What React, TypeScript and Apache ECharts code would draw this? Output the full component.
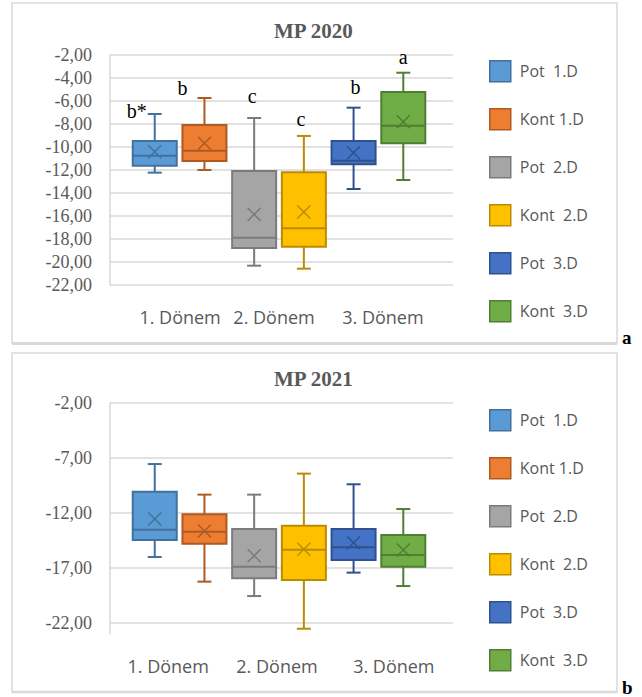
import React, { useEffect, useRef } from "react";
import * as echarts from "echarts";

// ---- data ----
const seriesNames = ["Pot  1.D", "Kont 1.D", "Pot  2.D", "Kont  2.D", "Pot  3.D", "Kont  3.D"];
const periodLabels = ["1. Dönem", "2. Dönem", "3. Dönem"];
const slotPositions = [1, 2, 3, 4, 5, 6];

// MP 2020 (box statistics per series)
const low2020 = [-12.23, -12.0, -20.32, -20.58, -13.65, -12.87];
const q1_2020 = [-11.63, -11.22, -18.78, -18.67, -11.5, -9.68];
const median2020 = [-10.75, -10.32, -17.89, -17.07, -11.19, -8.15];
const q3_2020 = [-9.48, -8.09, -12.09, -12.2, -9.48, -5.22];
const high2020 = [-7.13, -5.74, -7.48, -9.04, -6.58, -3.54];
const mean2020 = [-10.41, -9.68, -15.86, -15.65, -10.5, -7.8];
const letters2020 = ["b*", "b", "c", "c", "b", "a"];

// MP 2021
const low2021 = [-16.0, -18.24, -19.55, -22.52, -17.42, -18.64];
const q1_2021 = [-14.45, -14.79, -17.94, -18.09, -16.27, -16.88];
const median2021 = [-13.52, -13.7, -16.88, -15.33, -15.12, -15.82];
const q3_2021 = [-10.06, -12.12, -13.45, -13.15, -13.45, -14.0];
const high2021 = [-7.55, -10.33, -10.33, -8.42, -9.39, -11.64];
const mean2021 = [-12.55, -13.64, -15.88, -15.3, -14.7, -15.36];

const ticks2021 = [-22, -17, -12, -7, -2];

// ---- styles / layout ----
const fillColors = ["#5B9BD5", "#ED7D31", "#A5A5A5", "#FFC000", "#4472C4", "#70AD47"];
const borderColors = ["#41719C", "#AE5A21", "#7B7B7B", "#BC8C00", "#2F528F", "#507E32"];
const letterOffsets2020 = [[-18, -3], [-22, -10], [-2, -22], [-3, -17], [2, -21], [0, -16]];
const labelPos2020 = [1.51, 3.4, 5.59];
const labelPos2021 = [1.27, 3.46, 5.81];

const GRAY = "#595959";
const GRID = "#D9D9D9";
const SERIF = "'Liberation Serif', 'Times New Roman', serif";
const SANS = "'Open Sans', 'Noto Sans', sans-serif";

function fmt(v: number) {
  return v.toFixed(2).replace(".", ",");
}

function boxSeries(
  axisIdx: number,
  lows: number[], q1s: number[], meds: number[], q3s: number[], highs: number[], means: number[],
  letters: string[] | null,
  offsets: number[][] | null
) {
  return seriesNames.map((name, i) => ({
    type: "custom",
    name,
    xAxisIndex: axisIdx,
    yAxisIndex: axisIdx,
    itemStyle: { color: fillColors[i], borderColor: borderColors[i], borderWidth: 2 },
    data: [[slotPositions[i], lows[i], q1s[i], meds[i], q3s[i], highs[i], means[i]]],
    renderItem: (_params: any, api: any) => {
      const x = api.value(0);
      const pLow = api.coord([x, api.value(1)]);
      const pQ1 = api.coord([x, api.value(2)]);
      const pMed = api.coord([x, api.value(3)]);
      const pQ3 = api.coord([x, api.value(4)]);
      const pHigh = api.coord([x, api.value(5)]);
      const pMean = api.coord([x, api.value(6)]);
      const cx = pLow[0];
      const half = 22;
      const cap = 7;
      const mk = 6.5;
      const st = { stroke: borderColors[i], lineWidth: 2 };
      const children: any[] = [
        { type: "line", shape: { x1: cx, y1: pQ3[1], x2: cx, y2: pHigh[1] }, style: st },
        { type: "line", shape: { x1: cx, y1: pQ1[1], x2: cx, y2: pLow[1] }, style: st },
        { type: "line", shape: { x1: cx - cap, y1: pHigh[1], x2: cx + cap, y2: pHigh[1] }, style: st },
        { type: "line", shape: { x1: cx - cap, y1: pLow[1], x2: cx + cap, y2: pLow[1] }, style: st },
        {
          type: "rect",
          shape: { x: cx - half, y: pQ3[1], width: half * 2, height: pQ1[1] - pQ3[1] },
          style: { fill: fillColors[i], stroke: borderColors[i], lineWidth: 2 },
        },
        { type: "line", shape: { x1: cx - half, y1: pMed[1], x2: cx + half, y2: pMed[1] }, style: st },
        {
          type: "line",
          shape: { x1: cx - mk, y1: pMean[1] - mk, x2: cx + mk, y2: pMean[1] + mk },
          style: { stroke: borderColors[i], lineWidth: 1.5 },
        },
        {
          type: "line",
          shape: { x1: cx - mk, y1: pMean[1] + mk, x2: cx + mk, y2: pMean[1] - mk },
          style: { stroke: borderColors[i], lineWidth: 1.5 },
        },
      ];
      if (letters && offsets) {
        children.push({
          type: "text",
          style: {
            text: letters[i],
            x: cx + offsets[i][0],
            y: pHigh[1] + offsets[i][1],
            fill: "#000000",
            font: `20px ${SERIF}`,
            align: "center",
            verticalAlign: "middle",
          },
        });
      }
      return { type: "group", children };
    },
  }));
}

const legendData = seriesNames.map((name, i) => ({
  name,
  itemStyle: { color: fillColors[i], borderColor: borderColors[i], borderWidth: 1.5 },
}));

function legendAt(top: number) {
  return {
    data: legendData,
    orient: "vertical",
    left: 489,
    top,
    padding: 0,
    itemWidth: 21,
    itemHeight: 21,
    itemGap: 25.5,
    icon: "rect",
    selectedMode: false,
    textStyle: { color: GRAY, fontFamily: SANS, fontSize: 16, padding: [0, 0, 0, 4] },
  };
}

function xAxisFor(grid: number, positions: number[]) {
  return {
    gridIndex: grid,
    type: "value",
    min: 0.1,
    max: 7,
    axisLine: { show: false },
    axisTick: { show: false, customValues: positions },
    splitLine: { show: false },
    axisLabel: {
      customValues: positions,
      margin: 23,
      color: GRAY,
      fontFamily: SANS,
      fontSize: 18,
      formatter: (v: number) => {
        const k = positions.findIndex((p) => Math.abs(p - v) < 1e-6);
        return k >= 0 ? periodLabels[k] : "";
      },
    },
  };
}

export default function App() {
  const ref = useRef<HTMLDivElement>(null);
  useEffect(() => {
    if (!ref.current) return;
    const chart = echarts.init(ref.current, null, { renderer: "svg" });
    const option: any = {
      animation: false,
      backgroundColor: "#ffffff",
      title: [
        {
          text: "MP 2020",
          left: 274,
          top: 20,
          padding: 0,
          textStyle: { color: GRAY, fontFamily: SERIF, fontSize: 21, fontWeight: "bold" },
        },
        {
          text: "MP 2021",
          left: 274,
          top: 368,
          padding: 0,
          textStyle: { color: GRAY, fontFamily: SERIF, fontSize: 21, fontWeight: "bold" },
        },
      ],
      legend: [legendAt(60), legendAt(409)],
      grid: [
        { left: 110, top: 55, width: 343, height: 230 },
        { left: 110, top: 403, width: 343, height: 231 },
      ],
      xAxis: [xAxisFor(0, labelPos2020), xAxisFor(1, labelPos2021)],
      yAxis: [
        {
          gridIndex: 0,
          type: "value",
          min: -22,
          max: -2,
          interval: 2,
          axisLine: { show: true, lineStyle: { color: GRID, width: 1.5 } },
          axisTick: { show: false },
          splitLine: { show: true, lineStyle: { color: GRID, width: 1.5 } },
          axisLabel: { margin: 18, color: GRAY, fontFamily: SERIF, fontSize: 18, formatter: fmt },
        },
        {
          gridIndex: 1,
          type: "value",
          min: -23,
          max: -2,
          axisLine: { show: true, lineStyle: { color: GRID, width: 1.5 } },
          axisTick: { show: false, customValues: ticks2021 },
          splitLine: { show: true, lineStyle: { color: GRID, width: 1.5 } },
          axisLabel: {
            customValues: ticks2021,
            margin: 18,
            color: GRAY,
            fontFamily: SERIF,
            fontSize: 18,
            formatter: fmt,
          },
        },
      ],
      series: [
        ...boxSeries(0, low2020, q1_2020, median2020, q3_2020, high2020, mean2020, letters2020, letterOffsets2020),
        ...boxSeries(1, low2021, q1_2021, median2021, q3_2021, high2021, mean2021, null, null),
      ],
      graphic: [
        { type: "rect", shape: { x: 12, y: 3, width: 605, height: 340 }, style: { fill: "none", stroke: GRID, lineWidth: 1.5 }, silent: true },
        { type: "line", shape: { x1: 12, y1: 343.5, x2: 617, y2: 343.5 }, style: { stroke: GRID, lineWidth: 3 }, silent: true },
        { type: "rect", shape: { x: 12, y: 353, width: 605, height: 339 }, style: { fill: "none", stroke: GRID, lineWidth: 1.5 }, silent: true },
        { type: "line", shape: { x1: 12, y1: 692, x2: 617, y2: 692 }, style: { stroke: GRID, lineWidth: 2.5 }, silent: true },
        {
          type: "text",
          x: 622,
          y: 347,
          style: { text: "a", fill: "#000", font: `bold 19px ${SERIF}`, align: "left", verticalAlign: "bottom" },
        },
        {
          type: "text",
          x: 622,
          y: 697,
          style: { text: "b", fill: "#000", font: `bold 19px ${SERIF}`, align: "left", verticalAlign: "bottom" },
        },
      ],
    };
    chart.setOption(option);
    return () => chart.dispose();
  }, []);
  return (
    <div
      ref={ref}
      style={{ position: "absolute", left: 0, top: 0, width: 642, height: 697, background: "#fff" }}
    />
  );
}
